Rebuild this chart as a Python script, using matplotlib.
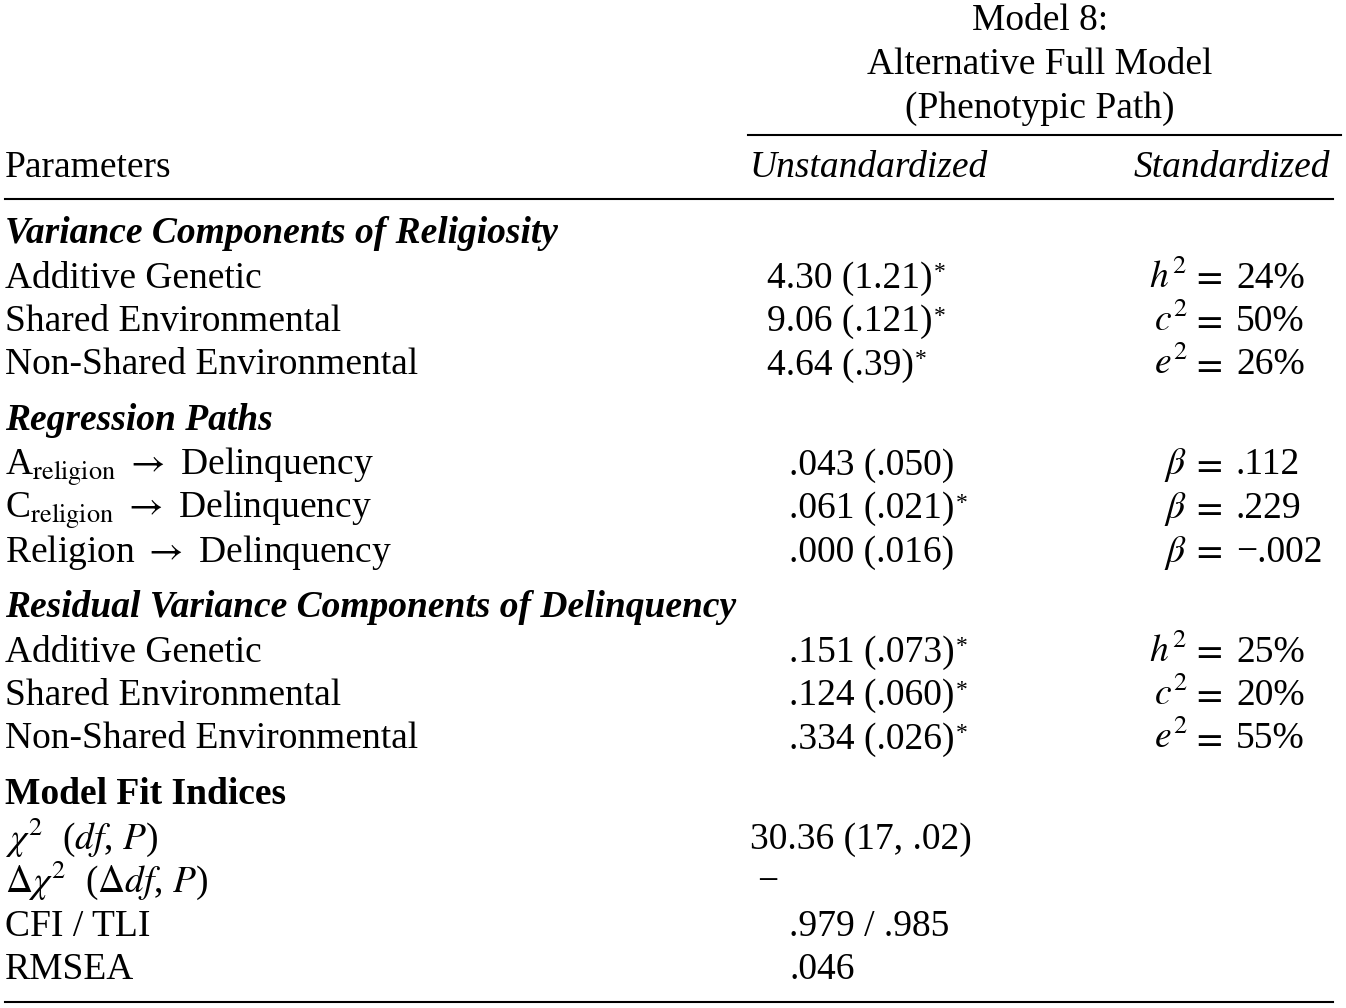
import matplotlib.pyplot as plt

plt.rcParams['font.family'] = ['Liberation Serif', 'DejaVu Serif']
plt.rcParams['mathtext.fontset'] = 'stix'

# Table content
model_title = ['Model 8:', 'Alternative Full Model', '(Phenotypic Path)']
col_headers = ['Parameters', 'Unstandardized', 'Standardized']

sections = ['Variance Components of Religiosity', 'Regression Paths',
            'Residual Variance Components of Delinquency', 'Model Fit Indices']

params = [
    ['Additive Genetic', 'Shared Environmental', 'Non-Shared Environmental'],
    ['A$_{\\mathrm{religion}}$ $\\rightarrow$ Delinquency',
     'C$_{\\mathrm{religion}}$ $\\rightarrow$ Delinquency',
     'Religion $\\rightarrow$ Delinquency'],
    ['Additive Genetic', 'Shared Environmental', 'Non-Shared Environmental'],
    ['$\\chi^2$  ($df$, $P$)', '$\\Delta\\chi^2$  ($\\Delta df$, $P$)', 'CFI / TLI', 'RMSEA'],
]

# a trailing * marks a significant estimate (drawn as a superscript)
unstd = [
    ['4.30 (1.21)*', '9.06 (.121)*', '4.64 (.39)*'],
    ['.043 (.050)', '.061 (.021)*', '.000 (.016)'],
    ['.151 (.073)*', '.124 (.060)*', '.334 (.026)*'],
    ['30.36 (17, .02)', '\u2212', '.979 / .985', '.046'],
]

std_sym = [
    ['$h^2$', '$c^2$', '$e^2$'],
    ['$\\beta$', '$\\beta$', '$\\beta$'],
    ['$h^2$', '$c^2$', '$e^2$'],
    ['', '', '', ''],
]
std_val = [
    ['24%', '50%', '26%'],
    ['.112', '.229', '\u2212.002'],
    ['25%', '20%', '55%'],
    ['', '', '', ''],
]

# left edge of the unstandardized values per row
unstd_x = [[767, 767, 767], [789, 789, 789], [789, 789, 789], [750, 757, 789, 789]]

fs = 27
fig = plt.figure(figsize=(13.46, 10.08), dpi=100)
ax = fig.add_axes([0, 0, 1, 1])
ax.set_xlim(0, 1346)
ax.set_ylim(1008, 0)
ax.axis('off')

# header block
for i, t in enumerate(model_title):
    ax.text(1040, 30 + i * 44, t, fontsize=fs, ha='center', va='baseline')
ax.plot([748, 1341], [135, 135], color='black', lw=1.5)
ax.text(5, 177, col_headers[0], fontsize=fs, va='baseline')
ax.text(750, 177, col_headers[1], fontsize=fs, style='italic', va='baseline')
ax.text(1330, 177, col_headers[2], fontsize=fs, style='italic', va='baseline', ha='right')
ax.plot([5, 1333], [199, 199], color='black', lw=1.5)

y = 232
for s, name in enumerate(sections):
    if s == len(sections) - 1:
        ax.text(5, y + 11, name, fontsize=fs, weight='bold', va='baseline')
    else:
        ax.text(5, y + 11, name, fontsize=fs, weight='bold', style='italic', va='baseline')
    for r, p in enumerate(params[s]):
        y += 43.5
        ax.text(5, y + 12, p, fontsize=fs, va='baseline')
        val = unstd[s][r]
        sig = val.endswith('*')
        t = ax.text(unstd_x[s][r], y + 12, val.rstrip('*'), fontsize=fs, va='baseline')
        if sig:
            ax.annotate('*', xy=(1.0, 0.97), xycoords=t, xytext=(1, 0),
                        textcoords='offset points', fontsize=17, ha='left', va='top')
        if std_sym[s][r]:
            ax.text(1187, y + 12, std_sym[s][r], fontsize=fs, va='baseline', ha='right')
            ax.text(1191, y + 12, '$=$', fontsize=fs, va='baseline')
            ax.text(1236, y + 12, std_val[s][r], fontsize=fs, va='baseline')
    y += 43.5 + 13

ax.plot([5, 1333], [1002, 1002], color='black', lw=1.5)

fig.savefig('out.png', dpi=100)
